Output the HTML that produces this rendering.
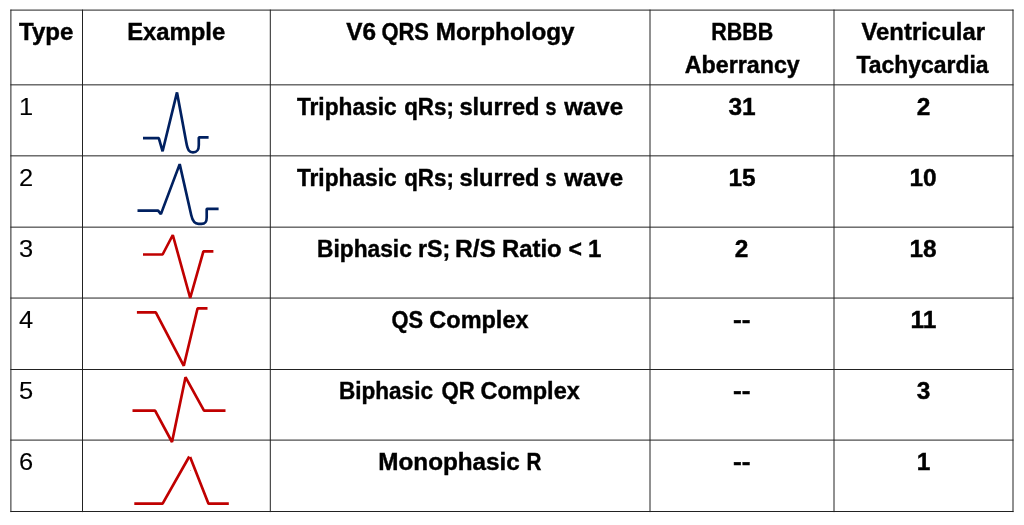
<!DOCTYPE html>
<html lang="en">
<head>
<meta charset="utf-8">
<title>V6 QRS Morphology</title>
<style>
  html, body { margin: 0; padding: 0; background: #fff; }
  body { width: 1024px; height: 525px; overflow: hidden; position: relative;
         font-family: "Liberation Sans", sans-serif; color: #000; }
  #grid { position: absolute; left: 0; top: 0; width: 1024px; height: 525px; z-index: 2; pointer-events: none; }
  table { position: absolute; left: 11px; top: 10px; border-collapse: collapse; border-spacing: 0;
          table-layout: fixed; width: 1002px; z-index: 1; }
  th, td { padding: 0; margin: 0; border: 0; vertical-align: top; text-align: center;
           font-size: 23.5px; line-height: 33px; font-weight: bold; -webkit-text-stroke: 0.4px #000; white-space: nowrap; overflow: visible; }
  th { padding-top: 6px; }
  td { padding-top: 6px; }
  td.n { padding-top: 5px; }
  tr.r1 td { padding-top: 7px; }
  tr.r1 td.n { padding-top: 6px; }
  tr.h { height: 74px; }
  tr.r1 { height: 72px; }
  tr.r2, tr.r3, tr.r4, tr.r5, tr.r6 { height: 71px; }
  td.n, th.n { text-align: left; padding-left: 8px; }
  td.n { font-weight: normal; font-size: 24.5px; -webkit-text-stroke: 0.1px #000; }
  .t { display: inline-block; transform-origin: 50% 50%; }
  .n .t { transform-origin: 0 50%; }
  .ln { display: inline-block; position: relative; text-align: left; white-space: pre; }
  .wd { display: inline-block; transform-origin: 0 50%; }
  td.ex { position: relative; }
  td.ex svg { position: absolute; left: 0; top: 0; overflow: visible; }
  .w { fill: none; stroke-width: 2.67; stroke-linejoin: bevel; stroke-linecap: butt; }
  .blue { stroke: #002060; }
  .red { stroke: #c00000; }
</style>
</head>
<body>
<table>
  <colgroup>
    <col style="width:71px"><col style="width:188px"><col style="width:380px"><col style="width:184px"><col style="width:179px">
  </colgroup>
  <thead>
    <tr class="h">
      <th class="n"><span class="t" style="transform:scaleX(1.023)">Type</span></th>
      <th><span class="ln" style="width:96.10px"><span class="wd" style="width:96.10px;transform:translateX(-0.87px) scaleX(1.0142)">Example</span></span></th>
      <th><span class="ln" style="width:228.30px"><span class="wd" style="width:35.90px;transform:translateX(0.15px) scaleX(1.0357)">V6 </span><span class="wd" style="width:55.00px;transform:translateX(-0.55px) scaleX(0.9333)">QRS </span><span class="wd" style="width:137.40px;transform:translateX(-1.14px) scaleX(1.0311)">Morphology</span></span></th>
      <th><span class="ln" style="width:60.00px"><span class="wd" style="width:60.00px;transform:translateX(-0.74px) scaleX(0.9125)">RBBB</span></span><br><span class="ln" style="width:114.50px"><span class="wd" style="width:114.50px;transform:translateX(-0.24px) scaleX(0.9892)">Aberrancy</span></span></th>
      <th><span class="ln" style="width:123.30px"><span class="wd" style="width:123.30px;transform:translateX(-0.55px) scaleX(1.0169)">Ventricular</span></span><br><span class="ln" style="width:132.40px"><span class="wd" style="width:132.40px;transform:translateX(-0.55px) scaleX(0.9753)">Tachycardia</span></span></th>
    </tr>
  </thead>
  <tbody>
    <tr class="r1">
      <td class="n"><span class="t" style="transform:scaleX(1.04)">1</span></td>
      <td class="ex"></td>
      <td><span class="ln" style="width:326.40px"><span class="wd" style="width:108.10px;transform:translateX(-0.10px) scaleX(0.9664)">Triphasic </span><span class="wd" style="width:54.90px;transform:translateX(-0.81px) scaleX(0.9515)">qRs; </span><span class="wd" style="width:86.50px;transform:translateX(-0.60px) scaleX(1.0058)">slurred </span><span class="wd" style="width:18.10px;transform:translateX(-0.52px) scaleX(0.8340)">s </span><span class="wd" style="width:58.80px;transform:translateX(0.16px) scaleX(1.0271)">wave</span></span></td>
      <td><span class="t" style="transform:scaleX(1.04)">31</span></td>
      <td><span class="t" style="transform:scaleX(1.04)">2</span></td>
    </tr>
    <tr class="r2">
      <td class="n"><span class="t" style="transform:scaleX(1.04)">2</span></td>
      <td class="ex"></td>
      <td><span class="ln" style="width:326.40px"><span class="wd" style="width:108.10px;transform:translateX(-0.10px) scaleX(0.9664)">Triphasic </span><span class="wd" style="width:54.90px;transform:translateX(-0.81px) scaleX(0.9515)">qRs; </span><span class="wd" style="width:86.50px;transform:translateX(-0.60px) scaleX(1.0058)">slurred </span><span class="wd" style="width:18.10px;transform:translateX(-0.52px) scaleX(0.8340)">s </span><span class="wd" style="width:58.80px;transform:translateX(0.16px) scaleX(1.0271)">wave</span></span></td>
      <td><span class="t" style="transform:scaleX(1.04)">15</span></td>
      <td><span class="t" style="transform:scaleX(1.04)">10</span></td>
    </tr>
    <tr class="r3">
      <td class="n"><span class="t" style="transform:scaleX(1.04)">3</span></td>
      <td class="ex"></td>
      <td><span class="ln" style="width:282.70px"><span class="wd" style="width:101.00px;transform:translateX(-1.96px) scaleX(0.9673)">Biphasic </span><span class="wd" style="width:37.50px;transform:translateX(-1.99px) scaleX(0.9915)">rS; </span><span class="wd" style="width:46.60px;transform:translateX(-2.06px) scaleX(1.0470)">R/S </span><span class="wd" style="width:65.90px;transform:translateX(-2.02px) scaleX(1.0167)">Ratio </span><span class="wd" style="width:20.20px;transform:translateX(-1.48px) scaleX(0.9796)">&lt; </span><span class="wd" style="width:11.50px;transform:translateX(-2.03px) scaleX(1.0222)">1</span></span></td>
      <td><span class="t" style="transform:scaleX(1.04)">2</span></td>
      <td><span class="t" style="transform:scaleX(1.04)">18</span></td>
    </tr>
    <tr class="r4">
      <td class="n"><span class="t" style="transform:scaleX(1.04)">4</span></td>
      <td class="ex"></td>
      <td><span class="ln" style="width:136.20px"><span class="wd" style="width:37.80px;transform:translateX(-0.60px) scaleX(0.9292)">QS </span><span class="wd" style="width:98.40px;transform:translateX(-0.65px) scaleX(0.9990)">Complex</span></span></td>
      <td><span class="t" style="transform:scaleX(1.12)">--</span></td>
      <td><span class="t" style="transform:scaleX(1.04)">11</span></td>
    </tr>
    <tr class="r5">
      <td class="n"><span class="t" style="transform:scaleX(1.04)">5</span></td>
      <td class="ex"></td>
      <td><span class="ln" style="width:239.30px"><span class="wd" style="width:101.20px;transform:translateX(-1.05px) scaleX(0.9600)">Biphasic </span><span class="wd" style="width:39.60px;transform:translateX(-0.56px) scaleX(0.9431)">QR </span><span class="wd" style="width:98.50px;transform:translateX(-0.60px) scaleX(1.0000)">Complex</span></span></td>
      <td><span class="t" style="transform:scaleX(1.12)">--</span></td>
      <td><span class="t" style="transform:scaleX(1.04)">3</span></td>
    </tr>
    <tr class="r6">
      <td class="n"><span class="t" style="transform:scaleX(1.04)">6</span></td>
      <td class="ex"></td>
      <td><span class="ln" style="width:162.10px"><span class="wd" style="width:148.50px;transform:translateX(-0.74px) scaleX(1.0329)">Monophasic </span><span class="wd" style="width:13.60px;transform:translateX(-0.55px) scaleX(0.8774)">R</span></span></td>
      <td><span class="t" style="transform:scaleX(1.12)">--</span></td>
      <td><span class="t" style="transform:scaleX(1.04)">1</span></td>
    </tr>
  </tbody>
</table>

<svg id="grid" width="1024" height="525" viewBox="0 0 1024 525">
  <g stroke="#222" stroke-width="1" fill="none">
    <!-- vertical rules -->
    <line x1="10.9" y1="9.6" x2="10.9" y2="512.1"/>
    <line x1="82.5" y1="9.6" x2="82.5" y2="512.1"/>
    <line x1="270.3" y1="9.6" x2="270.3" y2="512.1"/>
    <line x1="650" y1="9.6" x2="650" y2="512.1"/>
    <line x1="834" y1="9.6" x2="834" y2="512.1"/>
    <line x1="1013" y1="9.6" x2="1013" y2="512.1"/>
    <!-- horizontal rules -->
    <line x1="10.4" y1="10.1" x2="1013.5" y2="10.1"/>
    <line x1="10.4" y1="84.85" x2="1013.5" y2="84.85"/>
    <line x1="10.4" y1="155.85" x2="1013.5" y2="155.85"/>
    <line x1="10.4" y1="227.15" x2="1013.5" y2="227.15"/>
    <line x1="10.4" y1="298.05" x2="1013.5" y2="298.05"/>
    <line x1="10.4" y1="369.5" x2="1013.5" y2="369.5"/>
    <line x1="10.4" y1="440.1" x2="1013.5" y2="440.1"/>
    <line x1="10.4" y1="511.5" x2="1013.5" y2="511.5"/>
  </g>
  <!-- ECG example waveforms -->
  <g class="w blue">
    <path d="M143 138.2 H158.8 L162.6 151.3 L177 92.4 L186.3 142.5 C187.8 150.5 189.3 152.3 193 152.3 C197.4 152.3 198.8 150 198.8 145 V137.4 H208.6"/>
    <path d="M137.5 210.6 H158.1 L160.9 214.1 L179.7 164.1 L191.2 215 C192.6 221.5 194.6 223.8 198.5 223.8 H201.5 C205.6 223.8 206.7 221.8 206.7 217.5 V208.8 H218.6"/>
  </g>
  <g class="w red">
    <path d="M143 254.5 H162.6 L172.8 235 L190.2 298 L203.4 251.4 H213.4"/>
    <path d="M136.9 312.4 H155.8 L183.8 365.8 L197.6 308.3 H207.5"/>
    <path d="M132.5 410.7 H155.1 L172 442 L185.5 377.2 L204 410.7 H225.5"/>
    <path d="M134.3 503.7 H162.6 L189.3 456.5"/>
    <path d="M190.1 457.1 L208.5 503.7 H228.8"/>
    <circle cx="190.6" cy="470.6" r="0.5" fill="#c00000" stroke="none" opacity="0.45"/>
  </g>
</svg>
</body>
</html>
